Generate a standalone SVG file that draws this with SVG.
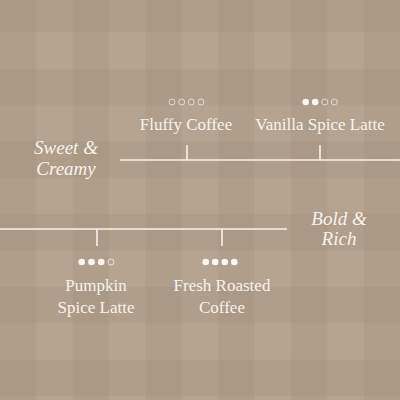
<svg xmlns="http://www.w3.org/2000/svg" width="400" height="400" viewBox="0 0 400 400">
<defs>
<pattern id="cols" patternUnits="userSpaceOnUse" width="72.727" height="400">
<rect x="0" y="0" width="36.364" height="400" fill="#7d6a55" fill-opacity="0.1"/>
</pattern>
<pattern id="rows" patternUnits="userSpaceOnUse" width="400" height="72.727" patternTransform="translate(0,-4)">
<rect x="0" y="0" width="400" height="36.364" fill="#7d6a55" fill-opacity="0.1"/>
</pattern>
<style>
.lbl{font-family:"Liberation Serif","Times New Roman",serif;font-size:17px;fill:#f8f3ec;text-anchor:middle}
.cat{font-family:"Liberation Serif","Times New Roman",serif;font-size:19px;font-style:italic;fill:#f8f3ec;text-anchor:middle}
.ln{stroke:#f8f3ec;stroke-width:1.6;fill:none}
.on{fill:#fbf8f2}
.off{fill:none;stroke:#ebe3d8;stroke-width:1;stroke-opacity:0.85}
</style>
</defs>
<rect width="400" height="400" fill="#b4a490"/>
<rect width="400" height="400" fill="url(#cols)"/>
<rect width="400" height="400" fill="url(#rows)"/>

<g id="connectors">
<line class="ln" x1="120" y1="160" x2="400" y2="160"/>
<line class="ln" x1="187" y1="145" x2="187" y2="160"/>
<line class="ln" x1="320" y1="145" x2="320" y2="160"/>
<line class="ln" x1="0" y1="229" x2="287" y2="229"/>
<line class="ln" x1="97" y1="229" x2="97" y2="246"/>
<line class="ln" x1="222" y1="229" x2="222" y2="246"/>
</g>

<g id="cat-sweet">
<text class="cat" x="66" y="154">Sweet &amp;</text>
<text class="cat" x="66" y="174.5">Creamy</text>
</g>
<g id="cat-bold">
<text class="cat" x="339" y="225">Bold &amp;</text>
<text class="cat" x="339" y="245">Rich</text>
</g>

<g id="fluffy">
<circle class="off" cx="172" cy="102" r="3"/>
<circle class="off" cx="181.7" cy="102" r="3"/>
<circle class="off" cx="191.3" cy="102" r="3"/>
<circle class="off" cx="201" cy="102" r="3"/>
<text class="lbl" x="186" y="130">Fluffy Coffee</text>
</g>

<g id="vanilla">
<circle class="on" cx="305.7" cy="102" r="3.3"/>
<circle class="on" cx="315.2" cy="102" r="3.3"/>
<circle class="off" cx="324.8" cy="102" r="3"/>
<circle class="off" cx="334.3" cy="102" r="3"/>
<text class="lbl" x="320" y="130">Vanilla Spice Latte</text>
</g>

<g id="pumpkin">
<circle class="on" cx="81.7" cy="262" r="3.3"/>
<circle class="on" cx="91.5" cy="262" r="3.3"/>
<circle class="on" cx="101.2" cy="262" r="3.3"/>
<circle class="off" cx="111" cy="262" r="3"/>
<text class="lbl" x="96" y="291">Pumpkin</text>
<text class="lbl" x="96" y="313">Spice Latte</text>
</g>

<g id="fresh">
<circle class="on" cx="205.7" cy="262" r="3.3"/>
<circle class="on" cx="215.2" cy="262" r="3.3"/>
<circle class="on" cx="224.8" cy="262" r="3.3"/>
<circle class="on" cx="234.3" cy="262" r="3.3"/>
<text class="lbl" x="222" y="291">Fresh Roasted</text>
<text class="lbl" x="222" y="313">Coffee</text>
</g>
</svg>
